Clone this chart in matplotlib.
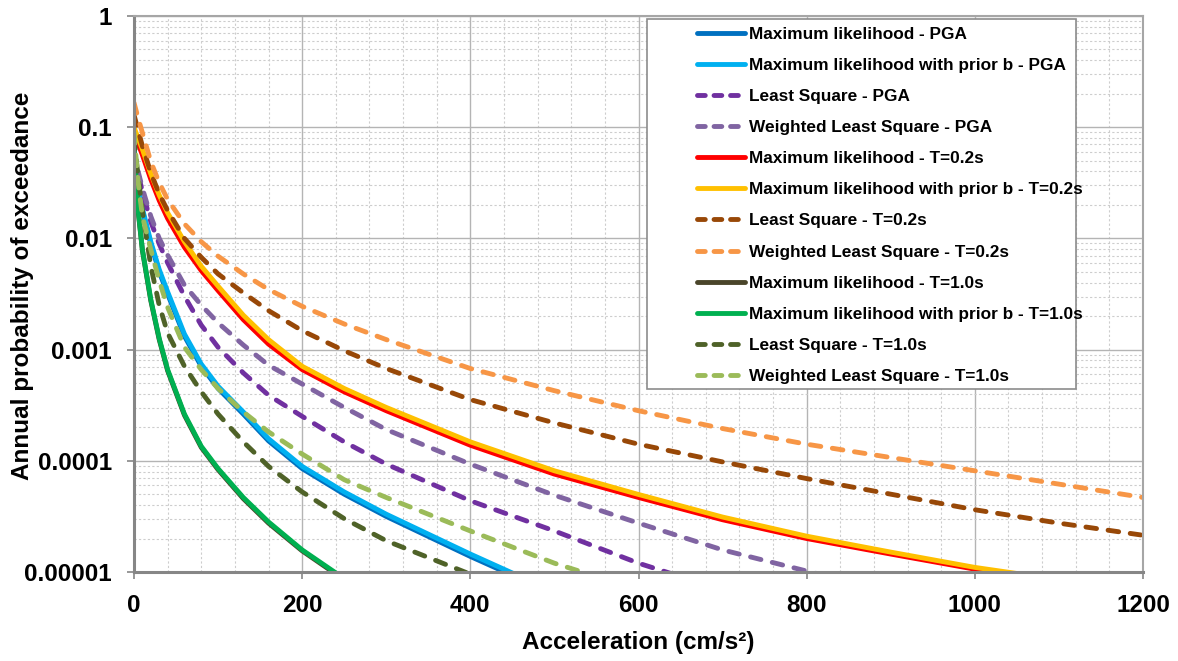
import numpy as np
import matplotlib.pyplot as plt
from matplotlib.lines import Line2D
from matplotlib.patches import Rectangle
from matplotlib.ticker import FixedLocator, FixedFormatter, MultipleLocator, NullFormatter

plt.rcParams['font.family'] = ['Liberation Sans', 'DejaVu Sans']
plt.rcParams['font.weight'] = 'bold'

nan = np.nan

# acceleration (cm/s2) at which the hazard curves were read
accel = [0, 5, 10, 20, 30, 40, 60, 80, 100, 130, 160, 200, 250, 300,
         400, 500, 600, 700, 800, 900, 1000, 1100, 1200]

# annual probability of exceedance, PGA
ml_pga = [0.0447, 0.0275, 0.0178, 0.00891, 0.00501, 0.00316, 0.00132, 7.08e-4,
          4.47e-4, 2.63e-4, 1.51e-4, 8.51e-5, 5.01e-5, 3.16e-5, 1.38e-5, 6.31e-6,
          nan, nan, nan, nan, nan, nan, nan]
mlb_pga = [0.0468, 0.0288, 0.0186, 0.00933, 0.00525, 0.00331, 0.00138, 7.41e-4,
           4.68e-4, 2.75e-4, 1.58e-4, 8.91e-5, 5.25e-5, 3.31e-5, 1.45e-5, 6.61e-6,
           nan, nan, nan, nan, nan, nan, nan]
ls_pga = [0.0562, 0.0380, 0.0263, 0.0141, 0.00891, 0.00603, 0.00302, 0.00166,
          0.00105, 6.17e-4, 3.89e-4, 2.51e-4, 1.48e-4, 9.33e-5, 4.37e-5, 2.34e-5,
          1.20e-5, 6.90e-6, nan, nan, nan, nan, nan]
wls_pga = [0.0631, 0.0398, 0.0282, 0.0158, 0.0100, 0.00708, 0.00380, 0.00251,
           0.00174, 0.00110, 7.24e-4, 4.90e-4, 3.02e-4, 1.91e-4, 9.33e-5, 4.90e-5,
           2.75e-5, 1.58e-5, 1.02e-5, 6.61e-6, nan, nan, nan]

# T = 0.2 s
ml_02 = [0.0891, 0.0708, 0.0562, 0.0339, 0.0219, 0.0151, 0.00832, 0.00513,
         0.00339, 0.00186, 0.00112, 6.61e-4, 4.17e-4, 2.82e-4, 1.38e-4, 7.59e-5,
         4.68e-5, 2.95e-5, 2.00e-5, 1.45e-5, 1.06e-5, 8.32e-6, nan]
mlb_02 = [0.100, 0.0794, 0.0631, 0.0380, 0.0245, 0.0170, 0.00933, 0.00562,
          0.00372, 0.00204, 0.00123, 7.08e-4, 4.47e-4, 3.02e-4, 1.48e-4, 8.13e-5,
          4.98e-5, 3.12e-5, 2.10e-5, 1.51e-5, 1.10e-5, 8.55e-6, nan]
ls_02 = [0.129, 0.0933, 0.0676, 0.0389, 0.0251, 0.0178, 0.0100, 0.00676,
         0.00479, 0.00324, 0.00224, 0.00148, 9.77e-4, 6.76e-4, 3.55e-4, 2.19e-4,
         1.41e-4, 9.77e-5, 6.92e-5, 5.01e-5, 3.63e-5, 2.75e-5, 2.14e-5]
wls_02 = [0.166, 0.120, 0.0891, 0.0490, 0.0316, 0.0224, 0.0135, 0.00933,
          0.00692, 0.00479, 0.00347, 0.00245, 0.00170, 0.00123, 6.76e-4, 4.27e-4,
          2.82e-4, 1.95e-4, 1.41e-4, 1.07e-4, 8.13e-5, 6.17e-5, 4.68e-5]

# T = 1.0 s
ml_10 = [0.0617, 0.0174, 0.00776, 0.00275, 0.00123, 6.46e-4, 2.57e-4, 1.32e-4,
         8.32e-5, 4.57e-5, 2.75e-5, 1.55e-5, 8.51e-6, nan, nan, nan,
         nan, nan, nan, nan, nan, nan, nan]
mlb_10 = [0.0631, 0.0178, 0.00794, 0.00282, 0.00126, 6.61e-4, 2.63e-4, 1.35e-4,
          8.51e-5, 4.68e-5, 2.82e-5, 1.58e-5, 8.71e-6, nan, nan, nan,
          nan, nan, nan, nan, nan, nan, nan]
ls_10 = [0.0794, 0.0355, 0.0178, 0.00562, 0.00251, 0.00141, 7.08e-4, 4.17e-4,
         2.63e-4, 1.48e-4, 8.91e-5, 5.25e-5, 3.02e-5, 1.91e-5, 9.55e-6, 5.01e-6,
         nan, nan, nan, nan, nan, nan, nan]
wls_10 = [0.0891, 0.0316, 0.0158, 0.00794, 0.00417, 0.00240, 0.00105, 6.61e-4,
          4.47e-4, 2.75e-4, 1.82e-4, 1.15e-4, 6.76e-5, 4.68e-5, 2.34e-5, 1.20e-5,
          6.90e-6, nan, nan, nan, nan, nan, nan]

series = [
    ("Maximum likelihood - PGA", ml_pga, "#0070C0", False),
    ("Maximum likelihood with prior b - PGA", mlb_pga, "#00B0F0", False),
    ("Least Square - PGA", ls_pga, "#7030A0", True),
    ("Weighted Least Square - PGA", wls_pga, "#8064A2", True),
    ("Maximum likelihood - T=0.2s", ml_02, "#FF0000", False),
    ("Maximum likelihood with prior b - T=0.2s", mlb_02, "#FFC000", False),
    ("Least Square - T=0.2s", ls_02, "#984807", True),
    ("Weighted Least Square - T=0.2s", wls_02, "#F79646", True),
    ("Maximum likelihood - T=1.0s", ml_10, "#4A452A", False),
    ("Maximum likelihood with prior b - T=1.0s", mlb_10, "#00B050", False),
    ("Least Square - T=1.0s", ls_10, "#4F6228", True),
    ("Weighted Least Square - T=1.0s", wls_10, "#9BBB59", True),
]

y_ticks = [1e-5, 1e-4, 1e-3, 1e-2, 1e-1, 1]
y_tick_labels = ["0.00001", "0.0001", "0.001", "0.01", "0.1", "1"]

W, H = 1178, 661
fig = plt.figure(figsize=(W / 100, H / 100), dpi=100)
ax = fig.add_axes([134 / W, 1 - 572 / H, (1143 - 134) / W, (572 - 16) / H])

lw = 3.5
for label, vals, color, dashed in series:
    kw = dict(color=color, lw=lw, solid_capstyle='butt')
    if dashed:
        kw.update(ls=(0, (2.2, 2.4)), dash_capstyle='round')
    ax.plot(accel, vals, label=label, **kw)

ax.set_yscale('log')
ax.set_xlim(0, 1200)
ax.set_ylim(1e-5, 1)

ax.xaxis.set_major_locator(MultipleLocator(200))
ax.xaxis.set_minor_locator(MultipleLocator(40))
ax.yaxis.set_major_locator(FixedLocator(y_ticks))
ax.yaxis.set_major_formatter(FixedFormatter(y_tick_labels))
ax.yaxis.set_minor_locator(FixedLocator(
    [m * 10.0 ** e for e in range(-5, 0) for m in range(2, 10)]))
ax.yaxis.set_minor_formatter(NullFormatter())

ax.grid(which='major', color='#B4B4B4', lw=1.0, ls='-')
ax.grid(which='minor', color='#CDCDCD', lw=0.8, ls=(0, (2, 2)))
ax.set_axisbelow(True)

ax.tick_params(which='major', length=5, width=1.2, color='#868686',
               labelsize=17.5)
ax.tick_params(axis='y', which='major', pad=11)
ax.tick_params(axis='x', which='major', pad=11)
ax.tick_params(which='minor', length=0)
for lab in ax.get_xticklabels() + ax.get_yticklabels():
    lab.set_fontweight('bold')

for side in ['top', 'right']:
    ax.spines[side].set_color('#A6A6A6')
    ax.spines[side].set_linewidth(1.5)
for side in ['left', 'bottom']:
    ax.spines[side].set_color('#868686')
    ax.spines[side].set_linewidth(2.2)

ax.set_xlabel("Acceleration (cm/s²)", fontsize=17.5, fontweight='bold')
ax.set_ylabel("Annual probability of exceedance", fontsize=17.5, fontweight='bold')
ax.xaxis.set_label_coords(0.5, (572 - 631) / 556)
ax.yaxis.set_label_coords((34 - 134) / 1009, 0.515)

# legend box drawn separately so the entries can sit to the right inside it
ax.add_patch(Rectangle((647 / W, 1 - 389 / H), (1076 - 647) / W, (389 - 19) / H,
                       transform=fig.transFigure, facecolor='white',
                       edgecolor='#8C8C8C', lw=1.2, zorder=4))
leg_handles = []
for label, vals, color, dashed in series:
    kw = dict(color=color, lw=lw, solid_capstyle='round')
    if dashed:
        kw.update(ls=(0, (1.6, 1.8)), dash_capstyle='round')
    leg_handles.append(Line2D([], [], **kw))
leg = ax.legend(leg_handles, [s[0] for s in series], loc='upper left',
                bbox_to_anchor=(697 / W, 1 - 27 / H), bbox_transform=fig.transFigure,
                frameon=False, borderpad=0, borderaxespad=0,
                handlelength=2.8, handletextpad=0.2, labelspacing=0.93,
                prop={'size': 12.4, 'weight': 'bold'})
leg.set_zorder(5)

fig.savefig("out.png", dpi=100)
